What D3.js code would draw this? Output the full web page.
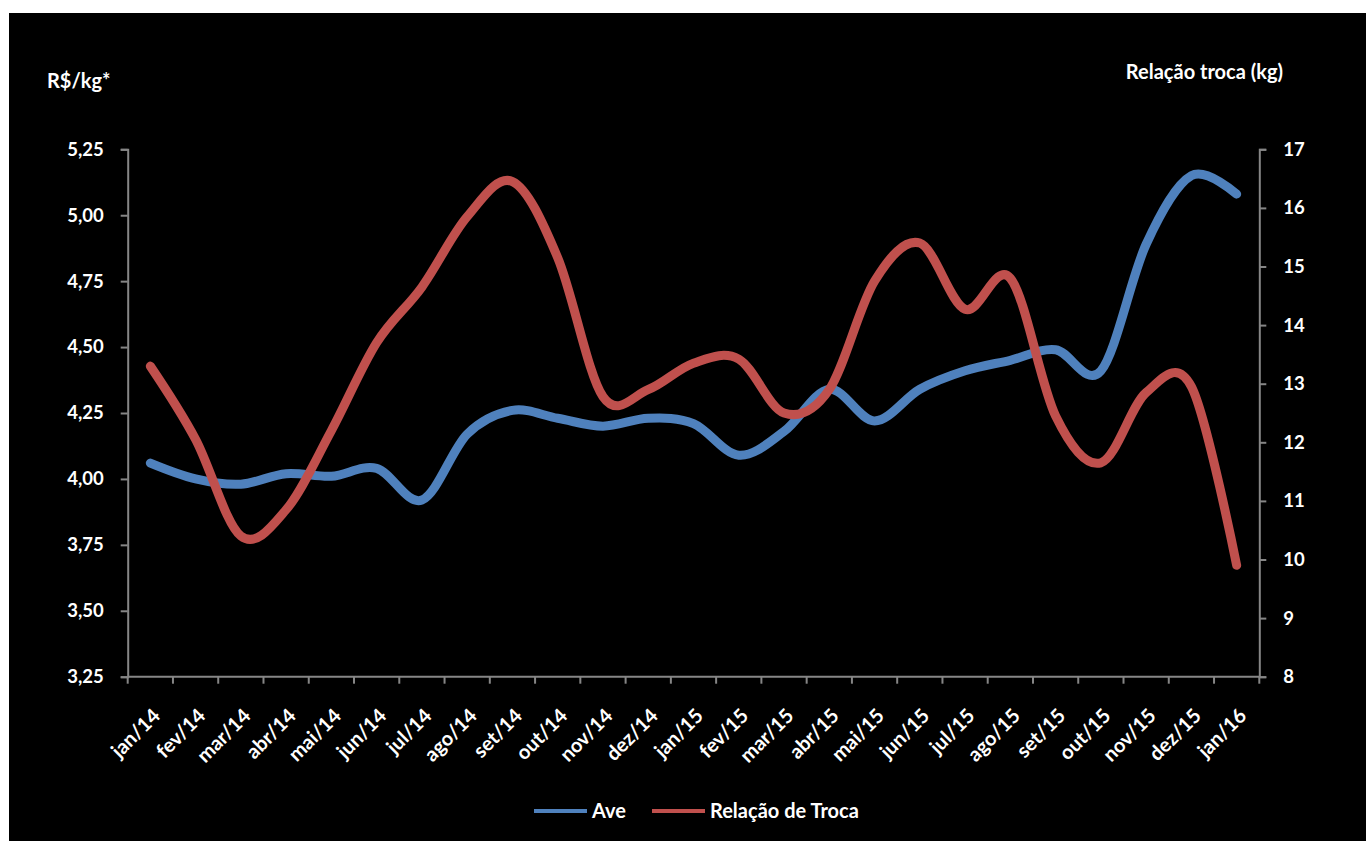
<!DOCTYPE html>
<html>
<head>
<meta charset="utf-8">
<script src="https://cdn.jsdelivr.net/npm/d3@7"></script>
<style>
  html, body { margin: 0; padding: 0; background: #ffffff; }
  svg { display: block; }
  text { font-family: Lato, "Open Sans", sans-serif; font-weight: 700; fill: #ffffff; }
</style>
</head>
<body>
<svg id="chart" width="1366" height="841"></svg>
<script>
// Monthly categories
const months = ["jan/14","fev/14","mar/14","abr/14","mai/14","jun/14","jul/14","ago/14","set/14","out/14","nov/14","dez/14",
                "jan/15","fev/15","mar/15","abr/15","mai/15","jun/15","jul/15","ago/15","set/15","out/15","nov/15","dez/15","jan/16"];

// Ave price, R$/kg (left axis)
const avePrice = [4.06, 4.00, 3.98, 4.02, 4.01, 4.04, 3.92, 4.17, 4.26, 4.23, 4.20, 4.23,
                  4.21, 4.09, 4.18, 4.34, 4.22, 4.34, 4.41, 4.45, 4.49, 4.41, 4.89, 5.15, 5.08];

// Relação de troca, kg (right axis)
const relTroca = [13.3, 12.05, 10.4, 10.85, 12.2, 13.7, 14.65, 15.85, 16.45, 15.15, 12.78, 12.9,
                  13.35, 13.42, 12.5, 12.9, 14.75, 15.4, 14.27, 14.8, 12.45, 11.65, 12.85, 12.95, 9.9];

// Tick values for both axes
const leftTicks = [3.25, 3.50, 3.75, 4.00, 4.25, 4.50, 4.75, 5.00, 5.25];
const rightTicks = [8, 9, 10, 11, 12, 13, 14, 15, 16, 17];

const seriesNames = ["Ave", "Relação de Troca"];
const seriesColors = ["#4F81BD", "#C0504D"];

const svg = d3.select("#chart");

// black panel
svg.append("rect").attr("x", 9).attr("y", 13).attr("width", 1366 - 9).attr("height", 841 - 13).attr("fill", "#000");

const plot = { left: 127.7, right: 1259.3, top: 149.3, bottom: 676.7 };

const x = d3.scaleBand().domain(months).range([plot.left, plot.right]).paddingInner(0).paddingOuter(0);
const xc = d => x(d) + x.bandwidth() / 2;
const yL = d3.scaleLinear().domain([3.25, 5.25]).range([plot.bottom, plot.top]);
const yR = d3.scaleLinear().domain([8, 17]).range([plot.bottom, plot.top]);

const axisColor = "#868686";
const fmt = d3.format(".2f");

// left axis
const gl = svg.append("g").attr("transform", `translate(${plot.left},0)`)
  .call(d3.axisLeft(yL).tickValues(leftTicks).tickSize(7).tickPadding(17)
        .tickFormat(d => fmt(d).replace(".", ",")));
// right axis
const gr = svg.append("g").attr("transform", `translate(${plot.right},0)`)
  .call(d3.axisRight(yR).tickValues(rightTicks).tickSize(7).tickPadding(17));
[gl, gr].forEach(g => {
  g.select(".domain").attr("stroke", axisColor).attr("stroke-width", 2);
  g.selectAll(".tick line").attr("stroke", axisColor).attr("stroke-width", 2);
  g.selectAll(".tick text").attr("fill", "#fff").style("font-size", "18.5px")
    .style("font-family", "Lato, sans-serif").style("font-weight", 700);
});

// bottom axis (ticks between categories)
const gb = svg.append("g");
gb.append("line").attr("x1", plot.left).attr("x2", plot.right)
  .attr("y1", plot.bottom).attr("y2", plot.bottom).attr("stroke", axisColor).attr("stroke-width", 2);
const boundaries = months.map(m => x(m)).concat([plot.right]);
gb.selectAll("line.tk").data(boundaries).join("line").attr("class", "tk")
  .attr("x1", d => d).attr("x2", d => d).attr("y1", plot.bottom).attr("y2", plot.bottom + 7)
  .attr("stroke", axisColor).attr("stroke-width", 2);
gb.selectAll("text").data(months).join("text")
  .attr("transform", d => `translate(${xc(d) + 11},717) rotate(-45)`)
  .attr("text-anchor", "end")
  .style("font-size", "20px")
  .text(d => d);

// axis titles
svg.append("text").attr("x", 47).attr("y", 88).style("font-size", "20px").text("R$/kg*");
svg.append("text").attr("x", 1283).attr("y", 79).attr("text-anchor", "end").style("font-size", "20px").text("Relação troca (kg)");

// series lines
const lineL = d3.line().x((d, i) => xc(months[i])).y(d => yL(d)).curve(d3.curveCardinal.tension(0));
const lineR = d3.line().x((d, i) => xc(months[i])).y(d => yR(d)).curve(d3.curveCardinal.tension(0));

svg.append("path").datum(avePrice).attr("d", lineL)
  .attr("fill", "none").attr("stroke", seriesColors[0]).attr("stroke-width", 9)
  .attr("stroke-linecap", "round").attr("stroke-linejoin", "round");
svg.append("path").datum(relTroca).attr("d", lineR)
  .attr("fill", "none").attr("stroke", seriesColors[1]).attr("stroke-width", 9)
  .attr("stroke-linecap", "round").attr("stroke-linejoin", "round");

// legend
const legendItems = [{ name: seriesNames[0], color: seriesColors[0], x: 534 },
                     { name: seriesNames[1], color: seriesColors[1], x: 652 }];
const lg = svg.append("g");
legendItems.forEach(it => {
  lg.append("line").attr("x1", it.x).attr("x2", it.x + 53).attr("y1", 811).attr("y2", 811)
    .attr("stroke", it.color).attr("stroke-width", 4);
  lg.append("text").attr("x", it.x + 58).attr("y", 818).style("font-size", "20px").text(it.name);
});
</script>
</body>
</html>
